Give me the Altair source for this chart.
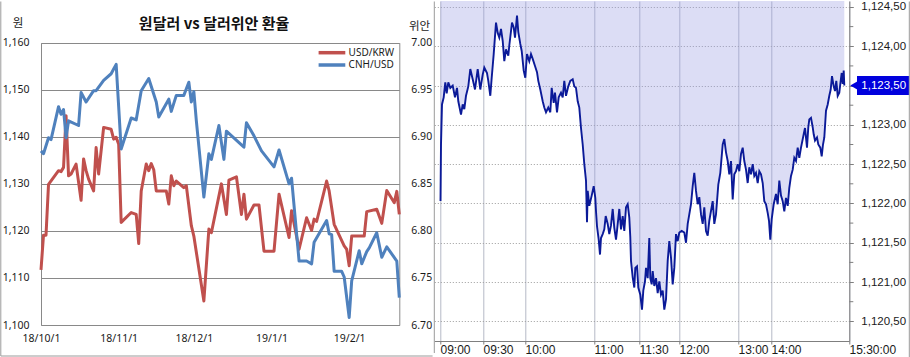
import altair as alt
import pandas as pd

# ---------------- left panel data ----------------
title_text = "원달러 vs 달러위안 환율"
unit_left = "원"
unit_right = "위안"
series_names = ["USD/KRW", "CNH/USD"]
series_colors = ["#C0504D", "#4F81BD"]

krw_dates = ["2018-10-01","2018-10-02","2018-10-03","2018-10-04","2018-10-08","2018-10-09","2018-10-10","2018-10-11",
             "2018-10-12","2018-10-13","2018-10-15","2018-10-17","2018-10-18","2018-10-19","2018-10-20","2018-10-22",
             "2018-10-23","2018-10-24","2018-10-26","2018-10-29","2018-10-30","2018-10-31","2018-11-01","2018-11-02",
             "2018-11-06","2018-11-08","2018-11-09","2018-11-10","2018-11-12","2018-11-13","2018-11-14","2018-11-15",
             "2018-11-16","2018-11-20","2018-11-21","2018-11-22","2018-11-23","2018-11-24","2018-11-27","2018-11-28",
             "2018-11-30","2018-12-01","2018-12-05","2018-12-07","2018-12-08","2018-12-12","2018-12-14","2018-12-15",
             "2018-12-18","2018-12-20","2018-12-21","2018-12-22","2018-12-25","2018-12-27","2018-12-29","2019-01-02",
             "2019-01-04","2019-01-08","2019-01-09","2019-01-12","2019-01-15","2019-01-17","2019-01-18","2019-01-19",
             "2019-01-23","2019-01-24","2019-01-26","2019-01-30","2019-01-31","2019-02-01","2019-02-02","2019-02-07",
             "2019-02-08","2019-02-12","2019-02-14","2019-02-16","2019-02-19","2019-02-20","2019-02-21"]
krw_vals = [1111.7,1119.1,1119.1,1129.9,1132.8,1132.6,1133.5,1144.5,1131.7,1132.1,1134.2,1126.5,1135.3,1132.8,1131.0,
            1128.5,1137.7,1132.1,1142.0,1141.6,1139.5,1139.9,1138.4,1121.8,1123.9,1123.5,1117.3,1128.5,1134.2,1132.8,
            1134.3,1133.0,1128.5,1128.5,1125.7,1131.7,1129.6,1130.6,1129.2,1129.6,1121.1,1118.9,1105.1,1120.4,1119.6,
            1130.0,1123.5,1130.8,1131.5,1123.5,1127.8,1122.5,1125.5,1125.5,1115.7,1115.7,1127.8,1118.6,1124.3,1116.1,
            1122.8,1120.1,1122.5,1122.0,1130.6,1128.5,1121.4,1116.8,1116.1,1112.6,1118.9,1118.9,1124.1,1124.6,1121.6,
            1128.6,1126.0,1128.4,1123.5]

cnh_dates = ["2018-10-01","2018-10-02","2018-10-04","2018-10-05","2018-10-08","2018-10-09","2018-10-10","2018-10-11",
             "2018-10-12","2018-10-16","2018-10-17","2018-10-19","2018-10-22","2018-10-23","2018-10-26","2018-10-29",
             "2018-10-30","2018-10-31","2018-11-02","2018-11-06","2018-11-08","2018-11-10","2018-11-13","2018-11-16",
             "2018-11-17","2018-11-21","2018-11-22","2018-11-24","2018-11-27","2018-11-29","2018-11-30","2018-12-01",
             "2018-12-02","2018-12-05","2018-12-07","2018-12-08","2018-12-11","2018-12-13","2018-12-14","2018-12-21",
             "2018-12-22","2018-12-25","2018-12-28","2019-01-02","2019-01-04","2019-01-08","2019-01-09","2019-01-12",
             "2019-01-15","2019-01-17","2019-01-18","2019-01-23","2019-01-24","2019-01-25","2019-01-26","2019-01-29",
             "2019-01-30","2019-02-01","2019-02-02","2019-02-05","2019-02-06","2019-02-08","2019-02-09","2019-02-12",
             "2019-02-14","2019-02-16","2019-02-20","2019-02-21"]
cnh_vals = [6.885,6.882,6.899,6.897,6.932,6.924,6.929,6.899,6.917,6.912,6.947,6.937,6.949,6.949,6.960,6.967,6.972,
            6.977,6.887,6.920,6.918,6.949,6.962,6.937,6.921,6.940,6.927,6.944,6.944,6.958,6.937,6.948,6.917,6.836,
            6.882,6.876,6.912,6.876,6.906,6.889,6.915,6.901,6.885,6.868,6.886,6.850,6.856,6.768,6.768,6.765,6.788,
            6.811,6.797,6.796,6.757,6.757,6.751,6.708,6.747,6.779,6.765,6.778,6.782,6.798,6.772,6.783,6.768,6.729]

krw_ticks = [1100, 1110, 1120, 1130, 1140, 1150, 1160]
cnh_ticks = [6.70, 6.75, 6.80, 6.85, 6.90, 6.95, 7.00]
month_ticks = [(2018, 10), (2018, 11), (2018, 12), (2019, 1), (2019, 2)]

# ---------------- right panel data (intraday, tick sequence) ----------------
seq = [0.5,1.0,2.0,3.7,5.3,6.7,8.3,10.3,12.7,15.0,17.0,18.3,21.0,22.7,24.3,26.0,28.3,30.3,32.7,35.0,37.7,40.3,42.7,
       44.3,47.0,48.3,50.3,51.7,53.7,56.0,57.7,59.3,61.0,62.7,64.3,66.0,68.3,69.3,72.0,73.7,75.0,77.0,78.3,80.3,81.7,
       83.7,85.3,87.0,89.3,91.0,92.7,95.0,97.0,98.3,100.3,102.7,104.3,106.0,108.3,110.3,111.7,113.7,115.0,117.0,118.7,
       121.0,122.7,124.3,126.0,128.3,130.3,132.7,134.3,136.0,137.7,139.3,141.0,142.7,144.3,146.0,147.0,147.7,149.3,
       151.7,153.7,155.3,156.0,157.0,158.7,160.0,161.0,162.7,164.3,165.7,167.7,169.3,171.0,172.7,174.3,176.0,177.0,
       179.3,181.0,182.7,184.3,186.0,187.7,189.3,190.3,191.0,192.7,194.3,195.3,197.0,198.3,200.3,202.0,203.3,205.0,
       206.0,207.7,209.3,210.3,211.7,212.7,214.3,216.0,217.7,219.3,221.0,222.7,224.3,226.0,227.7,229.3,231.0,232.7,
       234.3,236.0,237.7,239.3,241.7,244.3,246.0,247.7,251.0,252.7,254.3,256.0,257.7,259.3,261.0,262.7,264.3,266.0,
       267.7,269.3,272.7,274.3,276.0,278.3,280.3,282.7,284.3,286.0,287.7,289.3,291.0,292.7,294.3,296.0,297.7,299.3,
       301.0,302.7,304.3,306.0,307.7,309.3,311.0,312.7,314.3,316.0,317.7,319.3,321.0,322.7,324.3,326.0,327.7,329.0,
       330.3,331.7,333.7,336.0,337.7,339.3,341.0,342.7,344.3,346.0,347.7,349.3,351.0,352.7,354.3,356.0,357.7,359.3,
       361.0,363.7,365.0,367.0,368.3,369.3,371.0,372.7,373.7,375.0,377.0,378.3,380.3,381.7,383.0,384.3,386.0,387.7,
       389.3,390.7,392.0,393.7,395.0,396.3,397.7,399.3,400.3,401.7,402.7,403.7,404.3]
price = [1122.03,1122.75,1123.26,1123.35,1123.54,1123.40,1123.54,1123.47,1123.50,1123.35,1123.47,1123.30,1123.13,
         1123.26,1123.20,1123.37,1123.49,1123.71,1123.58,1123.45,1123.71,1123.45,1123.64,1123.73,1123.66,1123.56,
         1123.37,1123.60,1123.90,1124.30,1124.17,1124.11,1124.22,1124.07,1123.81,1123.96,1123.88,1124.01,1124.30,
         1124.24,1124.11,1124.39,1124.18,1124.03,1123.94,1123.69,1123.60,1123.90,1123.81,1123.90,1123.84,1123.75,
         1123.67,1123.56,1123.45,1123.30,1123.22,1123.16,1123.22,1123.16,1123.47,1123.28,1123.41,1123.16,1123.35,
         1123.41,1123.35,1123.56,1123.37,1123.49,1123.56,1123.58,1123.49,1123.47,1123.30,1123.22,1122.96,1122.75,
         1122.50,1122.29,1121.76,1122.16,1121.97,1122.10,1122.22,1122.07,1121.90,1121.71,1121.54,1121.35,1121.56,
         1121.61,1121.67,1121.84,1121.74,1121.61,1121.72,1121.93,1121.69,1121.54,1121.65,1121.93,1121.67,1121.84,
         1121.65,1121.95,1121.99,1121.82,1121.57,1121.27,1121.06,1120.93,1121.18,1121.20,1120.93,1120.84,1120.65,
         1120.89,1121.01,1121.18,1121.05,1121.56,1121.05,1120.97,1121.14,1120.95,1121.05,1120.86,1121.01,1120.84,
         1120.89,1120.65,1120.78,1121.27,1121.52,1121.31,1120.97,1121.18,1121.61,1121.52,1121.63,1121.65,1121.63,
         1121.50,1121.74,1121.99,1122.22,1122.39,1122.16,1121.99,1122.08,1121.86,1121.74,1121.95,1121.65,1121.59,
         1121.78,1122.03,1121.74,1121.86,1122.24,1122.39,1122.75,1122.82,1122.65,1122.54,1122.37,1122.54,1122.05,
         1122.37,1122.41,1122.50,1122.41,1122.63,1122.71,1122.54,1122.43,1122.26,1122.46,1122.37,1122.50,1122.35,
         1122.39,1122.26,1122.41,1122.37,1122.26,1122.03,1121.99,1121.88,1121.78,1121.54,1121.80,1121.99,1122.12,
         1121.99,1122.29,1122.10,1122.03,1121.90,1122.07,1121.97,1122.20,1122.35,1122.43,1122.58,1122.54,1122.71,
         1122.58,1122.71,1122.88,1122.96,1122.71,1122.97,1123.07,1123.09,1122.97,1122.88,1122.80,1122.84,1122.75,
         1122.71,1122.60,1122.75,1122.84,1123.18,1123.26,1123.37,1123.45,1123.62,1123.49,1123.43,1123.56,1123.37,
         1123.41,1123.52,1123.66,1123.52,1123.69,1123.50]

time_tick_pos = [0, 43, 85, 154, 199, 239, 298, 331, 409]
time_tick_labels = ["09:00", "09:30", "10:00", "11:00", "11:30", "12:00", "13:00", "14:00", "15:30:00"]
price_labels = [1120.5, 1121.0, 1121.5, 1122.0, 1122.5, 1123.0, 1123.5, 1124.0, 1124.5]
price_minor = [1120.75, 1121.25, 1121.75, 1122.25, 1122.75, 1123.25, 1123.75, 1124.25]
price_bottom = 1120.25
price_top = 1124.576
badge_half = 0.121   # half height of the last-price badge, in price units

# ---------------- styles ----------------
KR = "Noto Sans CJK KR"
NUM = "Noto Sans"
LAT = "Liberation Sans"
GRID = "#898989"
FRAME = "#9a9a9a"
TXT = "#1a1a1a"
LAV_BASE = "#9b9ee2"   # drawn at 0.35 opacity -> light lavender, grid shows through
NAVY = "#0b1a98"
BADGE = "#0000dd"

# ---------------- left panel ----------------
W_L, H_L = 358.3, 324
Y_TOP_L = 41.7
krw_df = pd.DataFrame({"date": krw_dates, "v": krw_vals})
cnh_df = pd.DataFrame({"date": cnh_dates, "v": cnh_vals})

x_left = alt.X(
    "date:T",
    scale=alt.Scale(type="utc", nice=False),
    axis=alt.Axis(
        values=[alt.DateTime(year=y, month=m, date=1, utc=True) for y, m in month_ticks],
        format="%y/%-m/%-d", title=None, grid=False, ticks=False,
        labelPadding=8, labelFlush=False, labelOverlap=False, domainColor=GRID,
        labelFont=NUM, labelFontSize=10.5, labelColor=TXT,
    ),
)

krw_line = alt.Chart(krw_df).mark_line(
    color=series_colors[0], strokeWidth=3, strokeJoin="round"
).encode(
    x=x_left,
    y=alt.Y(
        "v:Q",
        scale=alt.Scale(domain=[krw_ticks[0], krw_ticks[-1]], range=[H_L, Y_TOP_L], nice=False, zero=False),
        axis=alt.Axis(
            values=krw_ticks, format=",.0f", title=None, grid=True, gridColor=GRID, ticks=False,
            labelPadding=12, domainColor=GRID, labelOverlap=False,
            labelFont=NUM, labelFontSize=10.5, labelColor=TXT,
        ),
    ),
)

cnh_line = alt.Chart(cnh_df).mark_line(
    color=series_colors[1], strokeWidth=3, strokeJoin="round"
).encode(
    x=x_left,
    y=alt.Y(
        "v:Q",
        scale=alt.Scale(domain=[cnh_ticks[0], cnh_ticks[-1]], range=[H_L, Y_TOP_L], nice=False, zero=False),
        axis=alt.Axis(
            orient="right", values=cnh_ticks, format=".2f", title=None, grid=False, ticks=False,
            labelPadding=11.5, domainColor=GRID, labelOverlap=False,
            labelFont=NUM, labelFontSize=10.5, labelColor=TXT,
        ),
    ),
)

legend_rows_y = [51.7, 64.0]
legend_layers = []
for name, col, ly in zip(series_names, series_colors, legend_rows_y):
    ldf = pd.DataFrame({"series": [name]})
    legend_layers.append(
        alt.Chart(ldf).mark_rule(color=col, strokeWidth=3.5).encode(
            x=alt.value(277.6), x2=alt.value(304.3), y=alt.value(ly)
        )
    )
    legend_layers.append(
        alt.Chart(ldf).mark_text(align="left", baseline="middle", font=NUM, fontSize=10, color=TXT).encode(
            x=alt.value(307.6), y=alt.value(ly), text="series:N"
        )
    )

title_df = pd.DataFrame({"t": [title_text]})
title_mark = alt.Chart(title_df).mark_text(
    font=KR, fontSize=15, fontWeight="bold", align="center", baseline="middle", color="#111111"
).encode(x=alt.value(173.1), y=alt.value(23.3), text="t:N")

unit_l_df = pd.DataFrame({"t": [unit_left]})
unit_l_mark = alt.Chart(unit_l_df).mark_text(
    font=KR, fontSize=11.5, align="center", baseline="middle", color=TXT
).encode(x=alt.value(-23), y=alt.value(23), text="t:N")
unit_r_df = pd.DataFrame({"t": [unit_right]})
unit_r_mark = alt.Chart(unit_r_df).mark_text(
    font=KR, fontSize=11.5, align="center", baseline="middle", color=TXT
).encode(x=alt.value(W_L + 20.3), y=alt.value(25.8), text="t:N")

frame_df = pd.DataFrame({"k": [0]})
frame_left_v = alt.Chart(frame_df).mark_rule(color=FRAME, strokeWidth=1).encode(
    x=alt.value(-40.2), y=alt.value(0.5), y2=alt.value(355)
)
frame_left_h = alt.Chart(frame_df).mark_rule(color=FRAME, strokeWidth=1).encode(
    x=alt.value(-40.2), x2=alt.value(391.6), y=alt.value(355)
)

left = alt.layer(
    krw_line, cnh_line, *legend_layers, title_mark, unit_l_mark, unit_r_mark, frame_left_v, frame_left_h
).resolve_scale(y="independent").properties(width=W_L, height=H_L)

# ---------------- right panel ----------------
W_R, H_R = 415, 340
intr_df = pd.DataFrame({"seq": seq, "p": price, "top": [price_top] * len(price)})

x_expr = ""
for p, l in zip(time_tick_pos, time_tick_labels):
    x_expr += "datum.value == " + str(p) + " ? '" + l + "' : "
x_expr += "''"
y_expr = "replace(format(datum.value, ',.2f'), '.', ',')"

x_right = alt.X(
    "seq:Q",
    scale=alt.Scale(domain=[-5.7, 409.3], nice=False, zero=False),
    axis=alt.Axis(
        values=time_tick_pos, labelExpr=x_expr, title=None, grid=True, gridColor="#b6bac6",
        ticks=True, tickSize=3, tickColor="#7f7f7f", domainColor="#7f7f7f",
        labelAlign="left", labelPadding=0, labelFlush=False, labelOverlap=False,
        labelFont=LAT, labelFontSize=12, labelColor=TXT,
    ),
)
y_scale_r = alt.Scale(domain=[price_bottom, price_top], nice=False, zero=False)
y_axis_r = alt.Axis(
    orient="right", values=price_labels, labelExpr=y_expr, title=None, grid=True,
    gridColor="#9c9c9c", gridDash=[1, 2],
    ticks=True, tickSize=4, tickColor="#7f7f7f", domainColor="#7f7f7f", labelPadding=7.5,
    labelOverlap=False, labelFont=LAT, labelFontSize=11.5, labelColor=TXT,
)


def y_r(field):
    return alt.Y(field, type="quantitative", scale=y_scale_r, axis=y_axis_r)


area = alt.Chart(intr_df).mark_area(color=LAV_BASE, opacity=0.35).encode(
    x=x_right, y=y_r("p"), y2="top:Q"
)
line = alt.Chart(intr_df).mark_line(color=NAVY, strokeWidth=1.9, strokeJoin="miter").encode(
    x=x_right, y=y_r("p")
)

minor_df = pd.DataFrame({"p": price_minor})
minor_ticks = alt.Chart(minor_df).mark_rule(color="#7f7f7f", strokeWidth=1).encode(
    x=alt.value(W_R), x2=alt.value(W_R + 4), y=y_r("p")
)

last_p = price[-1]
last_df = pd.DataFrame({
    "p": [last_p],
    "hi": [last_p + badge_half],
    "lo": [last_p - badge_half],
    "label": [f"{last_p:,.2f}".replace(".", ",")],
})
badge_rect = alt.Chart(last_df).mark_rect(color=BADGE).encode(
    x=alt.value(422.7), x2=alt.value(475), y=y_r("hi"), y2="lo:Q"
)
badge_tip = alt.Chart(last_df).mark_point(
    shape="triangle-left", size=361, filled=True, color=BADGE, opacity=1
).encode(x=alt.value(424.2), y=y_r("p"))
badge_text = alt.Chart(last_df).mark_text(
    align="left", baseline="middle", color="white", font=LAT, fontSize=11.5
).encode(x=alt.value(427), y=y_r("p"), text="label:N")

frame_r_left = alt.Chart(frame_df).mark_rule(color=FRAME, strokeWidth=1).encode(
    x=alt.value(0), y=alt.value(0.5), y2=alt.value(352)
)
frame_r_right = alt.Chart(frame_df).mark_rule(color=FRAME, strokeWidth=1).encode(
    x=alt.value(475), y=alt.value(0.5), y2=alt.value(356.5)
)

right = alt.layer(
    area, line, minor_ticks, badge_rect, badge_tip, badge_text, frame_r_left, frame_r_right
).properties(width=W_R, height=H_R)

chart = alt.hconcat(left, right, spacing=34.3, bounds="flush").properties(
    padding=0
).configure_view(strokeOpacity=0)

chart.save("out.html", embed_options={"renderer": "svg", "actions": False})
